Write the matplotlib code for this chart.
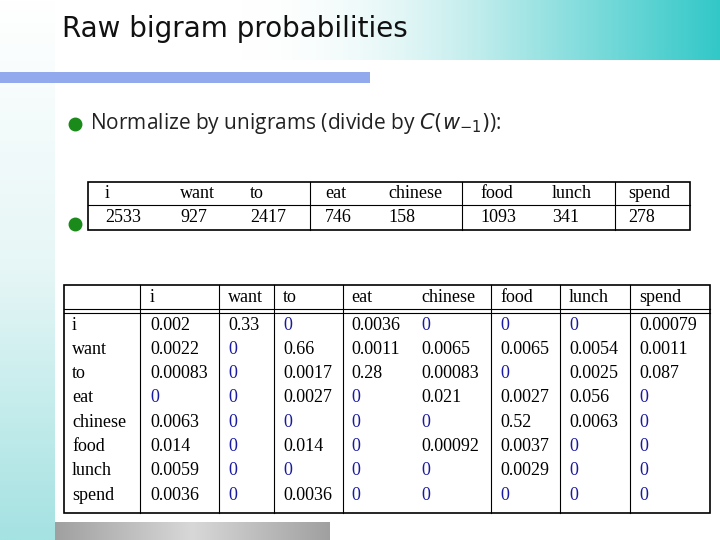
import numpy as np
import matplotlib.pyplot as plt
from matplotlib.colors import LinearSegmentedColormap

words = ["i", "want", "to", "eat", "chinese", "food", "lunch", "spend"]
unigram_counts = [2533, 927, 2417, 746, 158, 1093, 341, 278]
probs = [
    ["0.002", "0.33", "0", "0.0036", "0", "0", "0", "0.00079"],
    ["0.0022", "0", "0.66", "0.0011", "0.0065", "0.0065", "0.0054", "0.0011"],
    ["0.00083", "0", "0.0017", "0.28", "0.00083", "0", "0.0025", "0.087"],
    ["0", "0", "0.0027", "0", "0.021", "0.0027", "0.056", "0"],
    ["0.0063", "0", "0", "0", "0", "0.52", "0.0063", "0"],
    ["0.014", "0", "0.014", "0", "0.00092", "0.0037", "0", "0"],
    ["0.0059", "0", "0", "0", "0", "0.0029", "0", "0"],
    ["0.0036", "0", "0.0036", "0", "0", "0", "0", "0"],
]

fig = plt.figure(figsize=(7.2, 5.4), dpi=100)
ax = fig.add_axes([0, 0, 1, 1])
ax.set_xlim(0, 720)
ax.set_ylim(540, 0)
ax.axis("off")

# background decorations
side = LinearSegmentedColormap.from_list("s", ["#ffffff", "#e6f6f6", "#a5e2e2"])
ax.imshow(np.linspace(0, 1, 256)[:, None], cmap=side, extent=(0, 55, 540, 0), aspect="auto")
teal = LinearSegmentedColormap.from_list("t", ["#ffffff00", "#ffffff00", "#bfecec", "#33c8c8"])
ax.imshow(np.linspace(0, 1, 256)[None, :], cmap=teal, extent=(0, 720, 60, 0), aspect="auto")
ax.fill_between([0, 370], 72, 83, color="#93a9ee", lw=0)
gray = LinearSegmentedColormap.from_list("g", ["#a0a0a0", "#d8d8d8", "#a0a0a0"])
ax.imshow(np.linspace(0, 1, 256)[None, :], cmap=gray, extent=(55, 330, 540, 522), aspect="auto")

ax.text(62, 29, "Raw bigram probabilities", fontsize=20, color="#111111", va="center",
        family="DejaVu Sans")
ax.plot([75], [124], "o", color="#1a8a1a", ms=9)
ax.plot([75], [224], "o", color="#1a8a1a", ms=9)
ax.text(90, 124, r"Normalize by unigrams (divide by $C(w_{-1})$):",
        fontsize=15, va="center", family="Open Sans", color="#222222")

serif = "Liberation Serif"
# unigram table
ax.add_patch(plt.Rectangle((88, 182), 602, 48, fill=False, lw=1.2, color="black"))
ax.plot([88, 690], [205, 205], color="black", lw=0.8)
for x in [310, 462, 615]:
    ax.plot([x, x], [182, 230], color="black", lw=0.8)
ucols = [105, 180, 250, 325, 388, 480, 552, 628]
for x, w, c in zip(ucols, words, unigram_counts):
    ax.text(x, 194, w, fontsize=13, family=serif, va="center")
    ax.text(x, 217, str(c), fontsize=13, family=serif, va="center")

# bigram probability table
ax.add_patch(plt.Rectangle((64, 285), 646, 228, fill=False, lw=1.2, color="black"))
ax.plot([64, 710], [309, 309], color="black", lw=0.8)
ax.plot([64, 710], [313, 313], color="black", lw=0.8)
for x in [140, 219, 274, 343, 491, 560, 630]:
    ax.plot([x, x], [285, 513], color="black", lw=0.8)
pcols = [150, 228, 283, 351, 421, 500, 569, 639]
for x, w in zip(pcols, words):
    ax.text(x, 297, w, fontsize=13, family=serif, va="center")
for r, (w, row) in enumerate(zip(words, probs)):
    y = 325 + r * 24.3
    ax.text(72, y, w, fontsize=13, family=serif, va="center")
    for x, v in zip(pcols, row):
        ax.text(x, y, v, fontsize=13, family=serif, va="center",
                color="#1a1aa0" if v == "0" else "black")

fig.savefig("out.png", dpi=100)
